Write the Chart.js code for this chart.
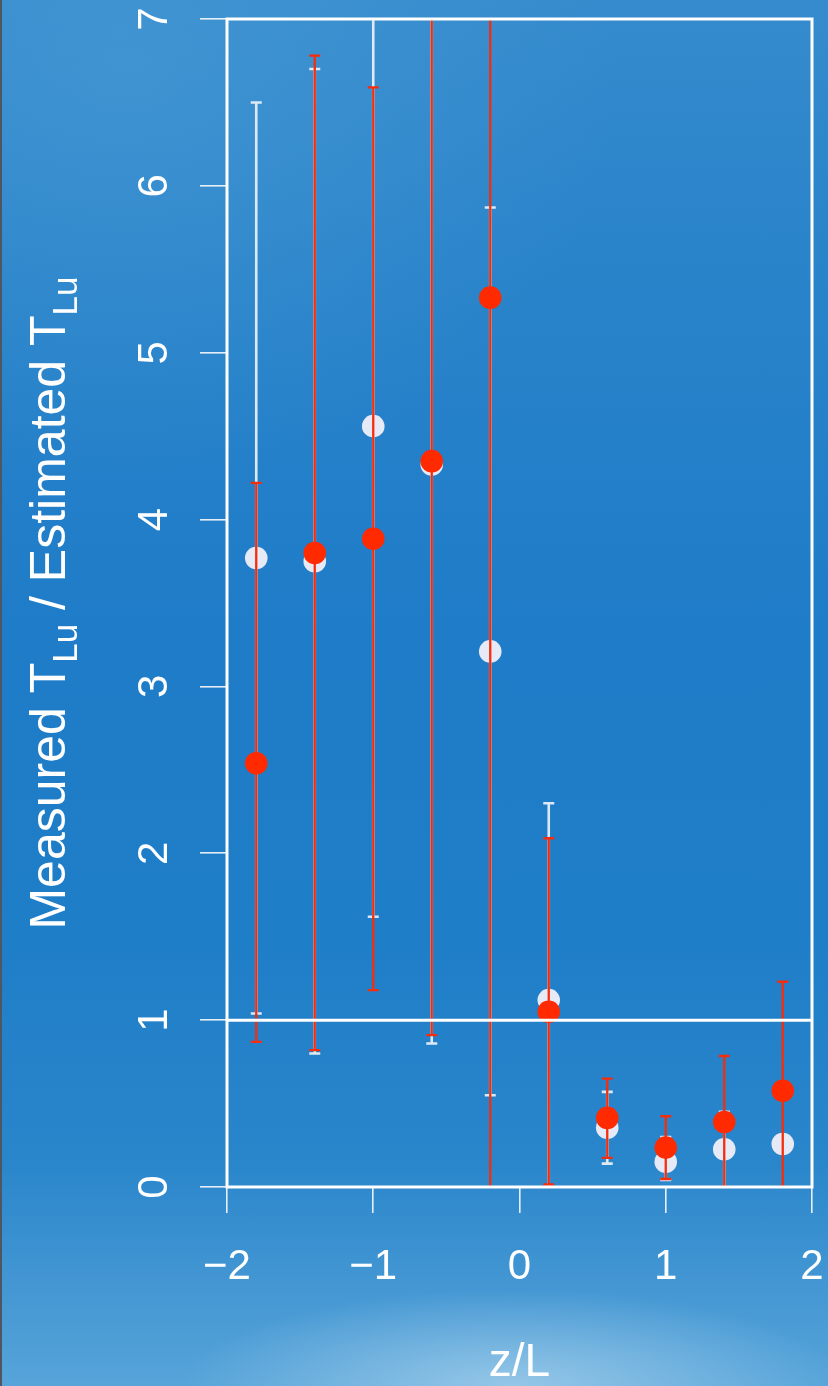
<!DOCTYPE html>
<html>
<head>
<meta charset="utf-8">
<script src="https://cdn.jsdelivr.net/npm/chart.js@4/dist/chart.umd.min.js"></script>
<style>
  html, body { margin: 0; padding: 0; width: 828px; height: 1386px; overflow: hidden; background: #2a83c9; }
  #wrap {
    position: relative; width: 828px; height: 1386px; overflow: hidden;
    background:
      radial-gradient(ellipse 40% 7% at 62% 100%, rgba(170,210,236,0.75), rgba(170,210,236,0) 100%),
      radial-gradient(ellipse 60% 30% at 15% 5%, rgba(80,160,215,0.45), rgba(80,160,215,0) 100%),
      linear-gradient(180deg, #358bcd 0%, #2a84ca 18%, #1f7cc8 45%, #1f7ec8 68%, #2a86cb 84%, #4799d4 94%, #56a4d9 100%);
  }
  #edge { position: absolute; left: 0; top: 0; width: 2px; height: 1386px; background: #4d5661; }
  canvas { position: absolute; left: 0; top: 0; }
</style>
</head>
<body>
<div id="wrap"><canvas id="chart" width="828" height="1386"></canvas><div id="edge"></div></div>
<script>
// Stability parameter bins (z/L)
const zOverL = [-1.8, -1.4, -1.0, -0.6, -0.2, 0.2, 0.6, 1.0, 1.4, 1.8];

// Ratio of measured to estimated T_Lu, first set (light markers)
const ratioA = [3.77, 3.75, 4.56, 4.33, 3.21, 1.12, 0.355, 0.152, 0.226, 0.258];
const lowA   = [1.04, 0.80, 1.62, 0.86, 0.55, -0.3, 0.14, 0.042, -0.1, null];
const highA  = [6.50, 6.70, 7.6, 7.6, 5.87, 2.30, 0.57, 0.30, 0.45, null];

// Second set (red markers)
const ratioB = [2.54, 3.80, 3.885, 4.35, 5.33, 1.05, 0.414, 0.236, 0.39, 0.577];
const lowB   = [0.87, 0.82, 1.18, 0.91, -0.5, 0.015, 0.174, 0.048, 0.0, 0.0];
const highB  = [4.22, 6.78, 6.59, 7.6, 7.6, 2.09, 0.65, 0.424, 0.785, 1.23];

// Axis ticks and labels
const xTicks = [-2, -1, 0, 1, 2];
const xTickLabels = ['\u22122', '\u22121', '0', '1', '2'];
const yTicks = [0, 1, 2, 3, 4, 5, 6, 7];
const yTickLabels = ['0', '1', '2', '3', '4', '5', '6', '7'];
const referenceRatio = 1;

const FONT = '"Liberation Sans", Arial, Helvetica, sans-serif';
const WHITE = '#ffffff';
const LIGHT = '#e6e9f6';
const RED = '#ff2a00';

const errorSets = [
  { low: lowA, high: highA, color: 'rgba(232,238,248,0.95)', width: 2.6 },
  { low: lowB, high: highB, color: '#f52d0c', width: 2.3 }
];

// Vertical error bars drawn just before each dataset's markers
const errorBarPlugin = {
  id: 'errorBars',
  beforeDatasetDraw(chart, args) {
    const set = errorSets[args.index];
    if (!set) return;
    const { ctx, chartArea: a } = chart;
    const xs = chart.scales.x, ys = chart.scales.y;
    ctx.save();
    ctx.beginPath();
    ctx.rect(a.left, a.top, a.right - a.left, a.bottom - a.top);
    ctx.clip();
    ctx.strokeStyle = set.color;
    ctx.lineWidth = set.width;
    ctx.lineCap = 'butt';
    zOverL.forEach((z, i) => {
      const lo = set.low[i], hi = set.high[i];
      if (lo == null || hi == null) return;
      const px = xs.getPixelForValue(z);
      const y1 = ys.getPixelForValue(lo), y2 = ys.getPixelForValue(hi);
      ctx.beginPath();
      ctx.moveTo(px, y1); ctx.lineTo(px, y2);
      const cap = 5.5;
      if (lo >= ys.min && lo <= ys.max) { ctx.moveTo(px - cap, y1); ctx.lineTo(px + cap, y1); }
      if (hi >= ys.min && hi <= ys.max) { ctx.moveTo(px - cap, y2); ctx.lineTo(px + cap, y2); }
      ctx.stroke();
    });
    ctx.restore();
  }
};

// Plot frame, reference line, rotated y labels and y title with subscripts
const framePlugin = {
  id: 'frame',
  afterDatasetsDraw(chart) {
    const { ctx, chartArea: a } = chart;
    const ys = chart.scales.y;
    ctx.save();
    ctx.strokeStyle = WHITE;
    ctx.lineWidth = 3;
    const yr = ys.getPixelForValue(referenceRatio);
    ctx.beginPath();
    ctx.moveTo(a.left, yr); ctx.lineTo(a.right, yr);
    ctx.stroke();
    ctx.strokeRect(a.left, a.top, a.right - a.left, a.bottom - a.top);
    ctx.restore();
  },
  afterDraw(chart) {
    const { ctx, chartArea: a } = chart;
    const ys = chart.scales.y;
    ctx.save();
    ctx.fillStyle = WHITE;
    // tick labels, rotated to read upward
    ctx.font = '42px ' + FONT;
    ctx.textAlign = 'center';
    ctx.textBaseline = 'alphabetic';
    ys.ticks.forEach((t) => {
      const idx = yTicks.indexOf(t.value);
      if (idx < 0) return;
      const py = ys.getPixelForValue(t.value);
      ctx.save();
      ctx.translate(167, py);
      ctx.rotate(-Math.PI / 2);
      ctx.fillText(yTickLabels[idx], 0, 0);
      ctx.restore();
    });
    // axis title
    const main = '50px ' + FONT, sub = '35px ' + FONT;
    const parts = [
      ['Measured T', main, 0], ['Lu', sub, 12],
      [' / Estimated T', main, 0], ['Lu', sub, 12]
    ];
    let total = 0;
    parts.forEach(p => { ctx.font = p[1]; p.push(ctx.measureText(p[0]).width); total += p[3]; });
    const cy = (a.top + a.bottom) / 2;
    ctx.translate(65, cy);
    ctx.rotate(-Math.PI / 2);
    ctx.textAlign = 'left';
    let x = -total / 2;
    parts.forEach(p => {
      ctx.font = p[1];
      ctx.fillText(p[0], x, p[2]);
      x += p[3];
    });
    ctx.restore();
  }
};

new Chart(document.getElementById('chart'), {
  type: 'scatter',
  data: {
    datasets: [
      {
        label: 'A',
        data: zOverL.map((z, i) => ({ x: z, y: ratioA[i] })),
        backgroundColor: LIGHT,
        borderWidth: 0,
        pointRadius: 11.3,
        pointHoverRadius: 11.3,
        order: 2
      },
      {
        label: 'B',
        data: zOverL.map((z, i) => ({ x: z, y: ratioB[i] })),
        backgroundColor: RED,
        borderWidth: 0,
        pointRadius: 11.3,
        pointHoverRadius: 11.3,
        order: 1
      }
    ]
  },
  options: {
    responsive: false,
    animation: false,
    events: [],
    layout: { autoPadding: false, padding: { left: 0, top: 19, right: 16, bottom: 0 } },
    plugins: { legend: { display: false }, tooltip: { enabled: false } },
    scales: {
      x: {
        type: 'linear', position: 'bottom', min: -2, max: 2,
        afterBuildTicks(scale) { scale.ticks = xTicks.map(v => ({ value: v })); },
        afterFit(scale) { scale.height = 199; scale.paddingLeft = 0; scale.paddingRight = 0; },
        border: { display: false },
        grid: { drawOnChartArea: false, drawTicks: true, tickLength: 26, color: 'rgba(240,244,250,0.95)', lineWidth: 1.6 },
        ticks: {
          color: WHITE, padding: 33, maxRotation: 0, autoSkip: false,
          font: { family: FONT, size: 42, lineHeight: 1 },
          callback: (v) => { const i = xTicks.indexOf(v); return i < 0 ? '' : xTickLabels[i]; }
        },
        title: { display: true, text: 'z/L', color: WHITE, padding: { top: 0, bottom: 0 }, font: { family: FONT, size: 46, lineHeight: 1 } }
      },
      y: {
        type: 'linear', position: 'left', min: 0, max: 7,
        afterBuildTicks(scale) { scale.ticks = yTicks.map(v => ({ value: v })); },
        afterFit(scale) { scale.width = 227; scale.paddingTop = 0; scale.paddingBottom = 0; },
        border: { display: false },
        grid: { drawOnChartArea: false, drawTicks: true, tickLength: 27, color: 'rgba(240,244,250,0.95)', lineWidth: 1.6 },
        ticks: { display: false }
      }
    }
  },
  plugins: [errorBarPlugin, framePlugin]
});
</script>
</body>
</html>
